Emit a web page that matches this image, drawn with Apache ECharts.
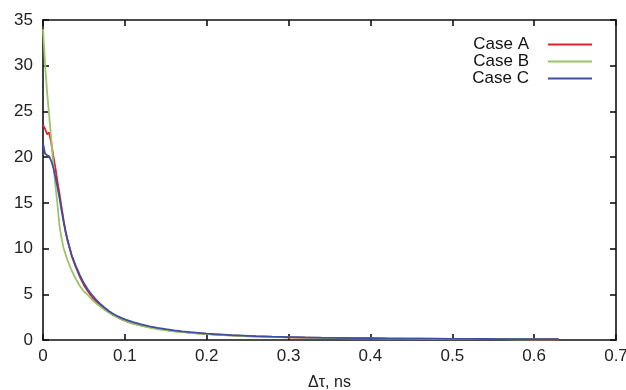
<!DOCTYPE html>
<html>
<head>
<meta charset="utf-8">
<script src="https://cdn.jsdelivr.net/npm/echarts@6/dist/echarts.min.js"></script>
<style>html,body{margin:0;padding:0;background:#fff}#c{width:626px;height:390px}</style>
</head>
<body>
<div id="c"></div>
<script>
const tau = [0,0.0025,0.005,0.0075,0.01,0.0125,0.015,0.0175,0.02,0.0225,0.025,0.0275,0.03,0.035,0.04,0.045,0.05,0.055,0.06,0.065,0.07,0.075,0.08,0.085,0.09,0.095,0.1,0.11,0.12,0.13,0.14,0.15,0.16,0.17,0.18,0.19,0.2,0.21,0.22,0.23,0.24,0.25,0.26,0.28,0.3,0.32,0.34,0.36,0.38,0.4,0.42,0.44,0.46,0.48,0.5,0.52,0.54,0.56,0.58,0.6,0.62,0.63];
const caseA = [23.5,23.1,22.5,22.7,21.6,20.2,18.9,17.4,16.1,14.6,13.2,11.9,10.9,9.2,8.0,6.9,6.0,5.3,4.7,4.2,3.8,3.4,3.1,2.8,2.55,2.3,2.1,1.8,1.6,1.4,1.25,1.1,0.98,0.88,0.8,0.72,0.66,0.6,0.55,0.5,0.46,0.42,0.39,0.34,0.3,0.27,0.24,0.22,0.2,0.18,0.16,0.15,0.14,0.13,0.12,0.11,0.1,0.1,0.09,0.08,0.08,0.07];
const caseB = [34.0,30.2,27.1,24.6,22.0,19.4,17.0,15.0,12.6,11.2,10.1,9.4,8.7,7.6,6.7,5.9,5.3,4.9,4.4,4.0,3.65,3.3,3.0,2.75,2.5,2.3,2.1,1.8,1.55,1.35,1.2,1.05,0.95,0.86,0.78,0.7,0.64,0.58,0.53,0.49,0.45,0.41,0.38,0.33,0.29,0.26,0.23,0.21,0.19,0.17,0.16,0.14,0.13,0.12,0.11,0.1,0.1,0.09,0.08,0.08,0.07,0.07];
const caseC = [21.5,20.4,20.2,20.1,19.6,18.9,17.9,16.8,15.6,14.3,13.0,11.9,10.9,9.3,8.1,7.1,6.2,5.5,4.9,4.4,3.95,3.55,3.2,2.9,2.65,2.45,2.25,1.95,1.7,1.5,1.33,1.18,1.05,0.95,0.86,0.78,0.7,0.64,0.59,0.54,0.5,0.46,0.42,0.36,0.32,0.28,0.25,0.23,0.21,0.19,0.17,0.16,0.15,0.14,0.13,0.12,0.11,0.1,0.1,0.09,0.09,0.08];
const seriesNames = ['Case A','Case B','Case C'];
const colors = ['#e0222c','#9cc46a','#3d4fa0'];
const xTickLabels = ['0','0.1','0.2','0.3','0.4','0.5','0.6','0.7'];

const pairs = arr => tau.map((t,i)=>[t,arr[i]]);
const font = 'Liberation Sans, Arial, sans-serif';
const lineStyle = {color:'#111', width:1.6};
const axLine = {onZero:false, lineStyle};
const chart = echarts.init(document.getElementById('c'), null, {renderer:'canvas'});
chart.setOption({
  animation:false,
  backgroundColor:'#fff',
  grid:{left:43, right:10, top:20, bottom:50, containLabel:false, outerBoundsMode:'none'},
  legend:{
    orient:'vertical', right:29, top:31, align:'right',
    itemWidth:44, itemHeight:2, itemGap:0, icon:'rect',
    textStyle:{fontFamily:font, fontSize:17, color:'#111', lineHeight:14, padding:[0,14,0,0]},
    data:seriesNames
  },
  xAxis:[{
    type:'value', min:0, max:0.7, interval:0.1, position:'bottom',
    axisLine:axLine, axisTick:{inside:true, length:6, lineStyle},
    splitLine:{show:false},
    axisLabel:{fontFamily:font, fontSize:17, color:'#222', margin:8,
      formatter:v=>xTickLabels[Math.round(v*10)]},
    name:'Δτ, ns', nameLocation:'middle', nameGap:35,
    nameTextStyle:{fontFamily:font, fontSize:16, color:'#222'}
  },{
    type:'value', min:0, max:0.7, interval:0.1, position:'top',
    axisLine:axLine, axisTick:{inside:true, length:6, lineStyle},
    splitLine:{show:false}, axisLabel:{show:false}
  }],
  yAxis:[{
    type:'value', min:0, max:35, interval:5, position:'left',
    axisLine:axLine, axisTick:{inside:true, length:6, lineStyle},
    splitLine:{show:false},
    axisLabel:{fontFamily:font, fontSize:17, color:'#222', margin:10}
  },{
    type:'value', min:0, max:35, interval:5, position:'right',
    axisLine:axLine, axisTick:{inside:true, length:6, lineStyle},
    splitLine:{show:false}, axisLabel:{show:false}
  }],
  series:[caseA,caseB,caseC].map((d,i)=>({
    name:seriesNames[i], type:'line', data:pairs(d), showSymbol:false,
    symbol:'none', color:colors[i], lineStyle:{width:1.8, color:colors[i]},
    xAxisIndex:0, yAxisIndex:0
  }))
});
</script>
</body>
</html>
